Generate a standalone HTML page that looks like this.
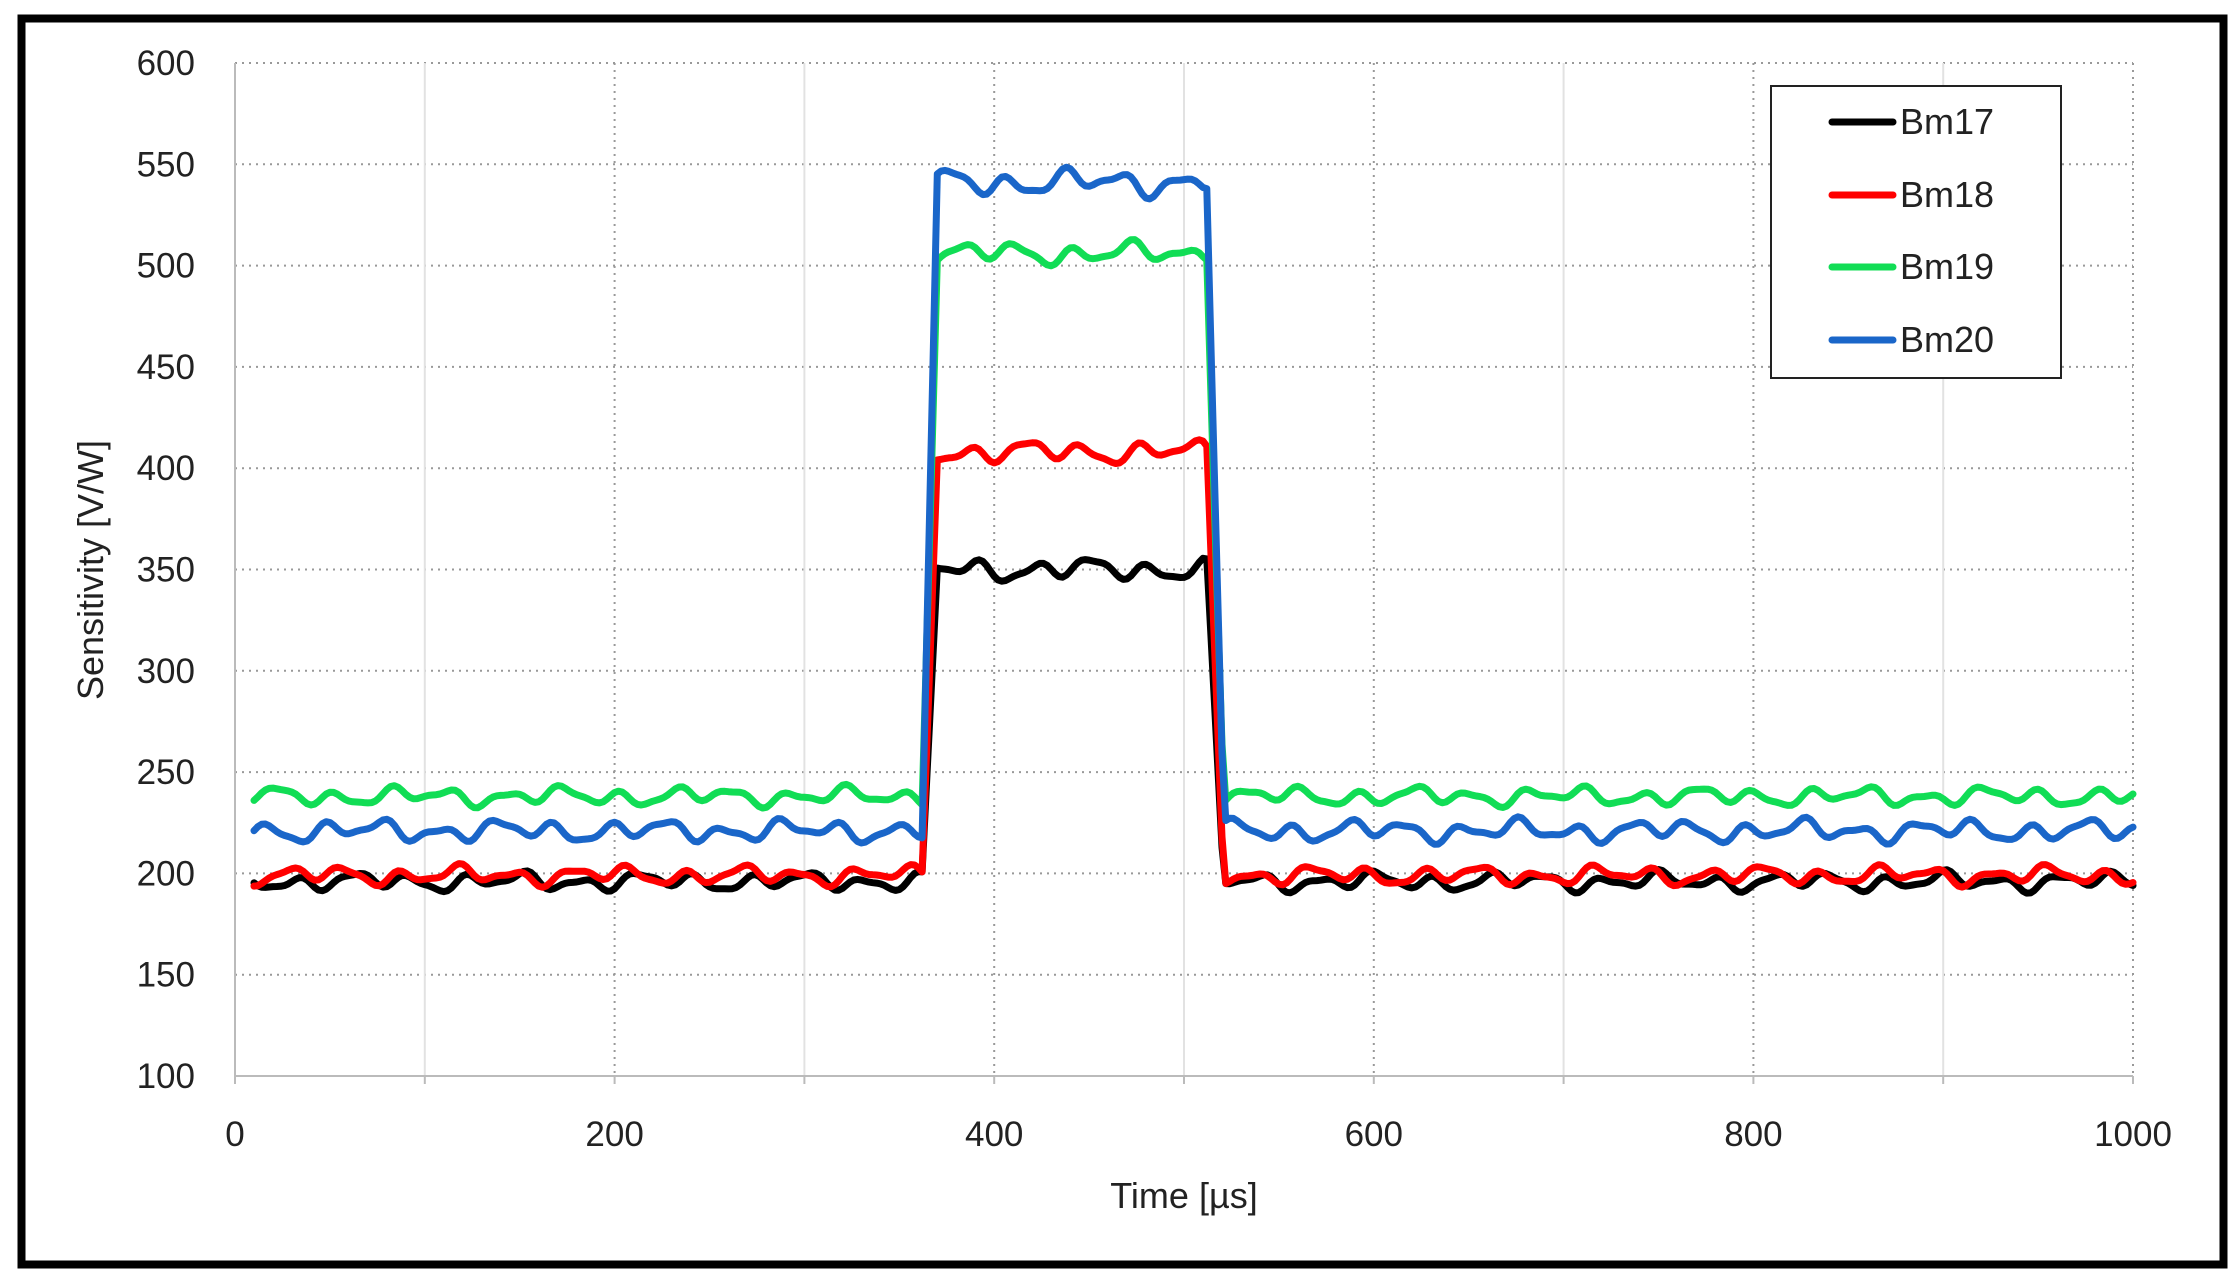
<!DOCTYPE html>
<html><head><meta charset="utf-8"><style>
html,body{margin:0;padding:0;background:#fff}
svg{display:block}
text{font-family:"Liberation Sans","DejaVu Sans",sans-serif;fill:#222}
</style></head><body>
<svg id="s" width="2237" height="1277" viewBox="0 0 2237 1277" xmlns="http://www.w3.org/2000/svg">
<rect x="0" y="0" width="2237" height="1277" fill="#fff"/>
<rect x="21.5" y="18.5" width="2202" height="1246" fill="none" stroke="#000" stroke-width="8"/>
<g id="grid"></g>
<g id="series" fill="none" stroke-width="7" stroke-linejoin="round" stroke-linecap="round"></g>
<g font-size="35" text-anchor="end" id="ylab"></g>
<g font-size="35" text-anchor="middle" id="xlab"></g>
<text x="1184" y="1208" font-size="36" text-anchor="middle">Time [µs]</text>
<text transform="translate(103,570) rotate(-90)" font-size="36" text-anchor="middle">Sensitivity [V/W]</text>
<rect x="1771" y="86" width="290" height="292" fill="#fff" stroke="#222" stroke-width="2"/>
<g stroke-width="7" stroke-linecap="round">
<line x1="1832" y1="122" x2="1893" y2="122" stroke="#000"/>
<line x1="1832" y1="195" x2="1893" y2="195" stroke="#ff0000"/>
<line x1="1832" y1="267" x2="1893" y2="267" stroke="#11dd55"/>
<line x1="1832" y1="340" x2="1893" y2="340" stroke="#1a66c9"/>
</g>
<g font-size="36">
<text x="1900" y="134">Bm17</text>
<text x="1900" y="207">Bm18</text>
<text x="1900" y="279">Bm19</text>
<text x="1900" y="352">Bm20</text>
</g>
</svg>
<script>
var NS="http://www.w3.org/2000/svg";
function X(v){return 235+v*1.898;}
function Y(v){return 63+(600-v)*2.026;}
function el(p,t,a,txt){var e=document.createElementNS(NS,t);for(var k in a)e.setAttribute(k,a[k]);if(txt!=null)e.textContent=txt;p.appendChild(e);return e;}
var g=document.getElementById('grid');
for(var v=100;v<=600;v+=50){el(g,'line',{x1:235,x2:2133,y1:Y(v),y2:Y(v),stroke:'#999','stroke-width':2,'stroke-dasharray':'2,5'});}
for(var x=100;x<=1000;x+=100){
 if(x%200==0) el(g,'line',{x1:X(x),x2:X(x),y1:63,y2:1076,stroke:'#999','stroke-width':2,'stroke-dasharray':'2,5'});
 else el(g,'line',{x1:X(x),x2:X(x),y1:63,y2:1076,stroke:'#e2e2e2','stroke-width':2});
}
el(g,'line',{x1:235,x2:235,y1:63,y2:1076,stroke:'#bbb','stroke-width':2});
el(g,'line',{x1:235,x2:2133,y1:1076,y2:1076,stroke:'#bbb','stroke-width':2});
for(var x=0;x<=1000;x+=100) el(g,'line',{x1:X(x),x2:X(x),y1:1076,y2:1084,stroke:'#bbb','stroke-width':2});
var yl=document.getElementById('ylab');
for(var v=100;v<=600;v+=50) el(yl,'text',{x:195,y:Y(v)+12},v);
var xl=document.getElementById('xlab');
for(var v=0;v<=1000;v+=200) el(xl,'text',{x:X(v),y:1146},v);
var S=[['#000',196,350,3,1],['#ff0000',199,408,3,2],['#11dd55',238,506,3,3],['#1a66c9',221,541,3.5,4]];
var sg=document.getElementById('series');
S.forEach(function(s){
 var d='',ph=s[4];
 for(var t=10;t<=1000;t+=2){
  var base,amp;
  if(t<362){base=s[1];amp=s[3];}
  else if(t<370){var f=(t-362)/8;base=s[1]+(s[2]-s[1])*f;amp=s[3];}
  else if(t<512){base=s[2];amp=s[3]*1.2;}
  else if(t<521){var f=(t-512)/9;base=s[2]+(s[1]-s[2])*f;amp=s[3];}
  else {base=s[1];amp=s[3];}
  var w=amp*(Math.sin(t*0.21+ph)+0.6*Math.sin(t*0.083+ph*2.1)+0.4*Math.sin(t*0.37+ph*0.7));
  d+=(d?'L':'M')+X(t).toFixed(1)+','+Y(base+w).toFixed(1);
 }
 el(sg,'path',{d:d,stroke:s[0]});
});
</script>
</body></html>
